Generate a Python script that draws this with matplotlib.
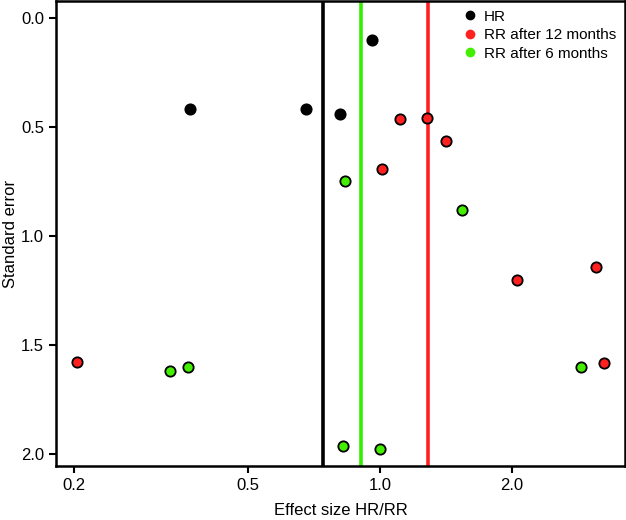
import matplotlib.pyplot as plt
from matplotlib.ticker import FixedLocator, NullLocator

plt.rcParams['font.family'] = ['Liberation Sans', 'DejaVu Sans']

# datos
hr_x = [0.369, 0.678, 0.809, 0.959]
hr_se = [0.418, 0.418, 0.439, 0.101]

rr12_x = [1.109, 1.278, 1.414, 1.011, 2.053, 3.12, 3.24, 0.204]
rr12_se = [0.461, 0.458, 0.565, 0.692, 1.203, 1.142, 1.584, 1.578]

rr6_x = [0.834, 1.543, 2.873, 0.822, 0.998, 0.332, 0.364]
rr6_se = [0.750, 0.880, 1.602, 1.965, 1.980, 1.619, 1.604]

# efectos combinados (líneas verticales)
pooled_hr = 0.743
pooled_rr6 = 0.905
pooled_rr12 = 1.285

x_ticks = [0.2, 0.5, 1.0, 2.0]
x_labels = ['0.2', '0.5', '1.0', '2.0']
y_ticks = [0.0, 0.5, 1.0, 1.5, 2.0]
y_labels = ['0.0', '0.5', '1.0', '1.5', '2.0']

fig = plt.figure(figsize=(6.26, 5.2), dpi=100)
ax = fig.add_axes([0.0895, 0.1038, 0.9085, 0.894])

ax.axvline(pooled_hr, color='black', lw=2.6, zorder=2)
ax.axvline(pooled_rr6, color='#33ee00', lw=2.6, zorder=2)
ax.axvline(pooled_rr12, color='#ff2020', lw=2.6, zorder=2)

ax.scatter(hr_x, hr_se, s=55, c='black', edgecolors='black', linewidths=1.3, zorder=3)
ax.scatter(rr12_x, rr12_se, s=55, c='#ff2020', edgecolors='black', linewidths=1.3, zorder=3)
ax.scatter(rr6_x, rr6_se, s=55, c='#44ee00', edgecolors='black', linewidths=1.3, zorder=3)

# leyenda sin borde en los marcadores
h1, = ax.plot([], [], 'o', color='black', ms=7, mew=0, label='HR')
h2, = ax.plot([], [], 'o', color='#ff2020', ms=7, mew=0, label='RR after 12 months')
h3, = ax.plot([], [], 'o', color='#44ee00', ms=7, mew=0, label='RR after 6 months')
ax.legend(handles=[h1, h2, h3], loc='upper right', frameon=False, fontsize=11,
          handletextpad=0.45, labelspacing=0.3, borderaxespad=0.25, borderpad=0.3,
          handlelength=1.0)

ax.set_xscale('log')
ax.set_xlim(0.1824, 3.62)
ax.set_ylim(2.057, -0.078)
ax.xaxis.set_major_locator(FixedLocator(x_ticks))
ax.xaxis.set_minor_locator(NullLocator())
ax.set_xticklabels(x_labels)
ax.set_yticks(y_ticks)
ax.set_yticklabels(y_labels)

for s in ax.spines.values():
    s.set_linewidth(1.8)
ax.tick_params(width=1.5, length=5, labelsize=12, direction='out')

ax.set_xlabel('Effect size HR/RR', fontsize=12, labelpad=7)
ax.set_ylabel('Standard error', fontsize=12, labelpad=2)

plt.savefig('out.png', dpi=100)
